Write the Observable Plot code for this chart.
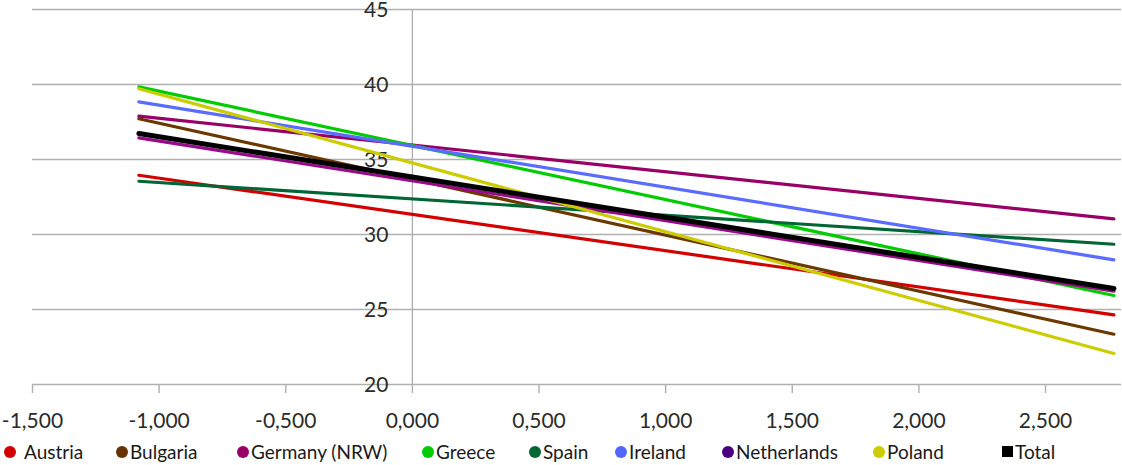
<!DOCTYPE html>
<html>
<head>
<meta charset="utf-8">
<script src="https://cdn.jsdelivr.net/npm/d3@7"></script>
<script src="https://cdn.jsdelivr.net/npm/@observablehq/plot@0.6"></script>
<style>
  html, body { margin: 0; padding: 0; background: #fff; }
  #wrap { position: relative; width: 1122px; height: 465px; overflow: hidden; font-family: Lato, "Open Sans", sans-serif; }
  #legend { position: absolute; left: 0; top: 438px; width: 1122px; height: 27px; }
  .item { position: absolute; top: 0; height: 27px; display: flex; align-items: center; font-size: 19px; color: #1a1a1a; white-space: nowrap; }
  .sw { display: inline-block; width: 12px; height: 12px; border-radius: 50%; margin-right: 2px; }
  .sq { border-radius: 0; width: 11px; height: 11px; }
</style>
</head>
<body>
<div id="wrap"><div id="chart"></div><div id="legend"></div></div>
<script>
// ---- data ----
const seriesNames = ["Austria", "Bulgaria", "Germany (NRW)", "Greece", "Spain", "Ireland", "Netherlands", "Poland", "Total"];
const lineColors  = ["#d40000", "#6b3800", "#990066", "#00cc00", "#006633", "#5a6bff", "#9a0a8a", "#cccc00", "#000000"];
const legendColors = ["#d40000", "#663300", "#990066", "#00cc00", "#006633", "#5566ff", "#4b0082", "#cccc00", "#000000"];
const xStart = -1.08;
const xEnd = 2.77;
const valuesAtStart = [33.95, 37.72, 37.89, 39.84, 33.55, 38.84, 36.44, 39.72, 36.73];
const valuesAtEnd   = [24.64, 23.35, 31.04, 25.93, 29.35, 28.31, 26.22, 22.07, 26.40];
const xTicks = [-1.5, -1.0, -0.5, 0, 0.5, 1.0, 1.5, 2.0, 2.5];
const yTicks = [20, 25, 30, 35, 40, 45];

// layout (legend item left offsets, px)
const legendLeft = [4, 116, 237, 422, 529, 615, 722, 873, 1002];

const rows = seriesNames.flatMap((s, i) => [
  {series: s, x: xStart, y: valuesAtStart[i]},
  {series: s, x: xEnd, y: valuesAtEnd[i]}
]);

const fmt = d => (d < 0 ? "-" : "") + Math.abs(d).toFixed(3).replace(".", ",");
const gridColor = "#b0b0b0";

const chart = Plot.plot({
  width: 1122,
  height: 438,
  marginLeft: 32,
  marginRight: 1,
  marginTop: 9,
  marginBottom: 54,
  style: {fontFamily: "Lato, 'Open Sans', sans-serif", background: "#fff"},
  x: {domain: [-1.5, 2.8]},
  y: {domain: [20, 45], axis: null},
  color: {domain: seriesNames, range: lineColors},
  marks: [
    Plot.ruleY(yTicks, {y: d => d, stroke: gridColor, strokeWidth: 1.4}),
    Plot.ruleX([0], {x: d => d, y1: 20, y2: 45, stroke: gridColor, strokeWidth: 1.4}),
    Plot.axisX({ticks: xTicks, tickSize: 9, tickPadding: 20, tickFormat: fmt, label: null,
      stroke: gridColor, strokeWidth: 1.4, fill: "#2b2b2b", fontSize: 21}),
    Plot.text(yTicks, {x: () => 0, y: d => d, text: d => String(d), textAnchor: "end", dx: -24, dy: 1,
      fontSize: 21, fill: "#2b2b2b"}),
    Plot.line(rows.filter(r => r.series !== "Total"), {x: "x", y: "y", z: "series", stroke: "series", strokeWidth: 3.2}),
    Plot.line(rows.filter(r => r.series === "Total"), {x: "x", y: "y", z: "series", stroke: "series", strokeWidth: 5})
  ]
});
document.getElementById("chart").appendChild(chart);

const legend = document.getElementById("legend");
seriesNames.forEach((s, i) => {
  const it = document.createElement("div");
  it.className = "item";
  it.style.left = legendLeft[i] + "px";
  const sw = document.createElement("span");
  sw.className = "sw" + (s === "Total" ? " sq" : "");
  sw.style.background = legendColors[i];
  if (i === 0) sw.style.marginRight = "8px";
  it.appendChild(sw);
  it.appendChild(document.createTextNode(s));
  legend.appendChild(it);
});
</script>
</body>
</html>
